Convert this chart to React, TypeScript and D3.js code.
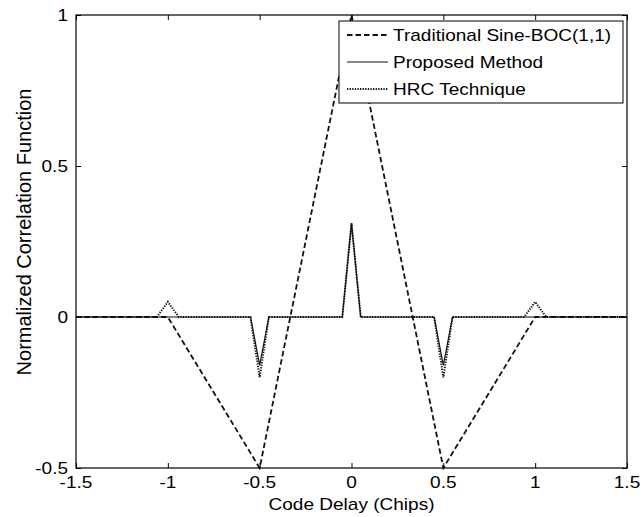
import { useEffect, useRef } from 'react';
import * as d3 from 'd3';

// tick values
const xTicks = [-1.5, -1, -0.5, 0, 0.5, 1, 1.5];
const yTicks = [-0.5, 0, 0.5, 1];

// Traditional Sine-BOC(1,1)
const bocX = [-1.5, -1, -0.5, 0, 0.5, 1, 1.5];
const bocY = [0, 0, -0.5, 1, -0.5, 0, 0];

// Proposed Method
const propX = [-1.5, -0.55, -0.5, -0.45, -0.05, 0, 0.05, 0.45, 0.5, 0.55, 1.5];
const propY = [0, 0, -0.16, 0, 0, 0.31, 0, 0, -0.16, 0, 0];

// HRC Technique
const hrcX = [-1.5, -1.06, -1, -0.94, -0.55, -0.5, -0.45, -0.05, 0, 0.05, 0.45, 0.5, 0.55, 0.94, 1, 1.06, 1.5];
const hrcY = [0, 0, 0.05, 0, 0, -0.2, 0, 0, 0.31, 0, 0, -0.2, 0, 0, 0.05, 0, 0];

const legendLabels = ['Traditional Sine-BOC(1,1)', 'Proposed Method', 'HRC Technique'];
const dashes = ['5.5,3', null, '1.3,1.3'];
const widths = [1.8, 1.2, 2];

const App = () => {
  const svgRef = useRef<SVGSVGElement>(null);

  useEffect(() => {
    if (!svgRef.current) return;
    const width = 641;
    const height = 517;
    const margin = { top: 15, right: 14, bottom: 49, left: 76 };
    const innerWidth = width - margin.left - margin.right;
    const innerHeight = height - margin.top - margin.bottom;
    const font = 'Liberation Sans, Arial, sans-serif';
    const fs = 17;
    const sx = 1.12; // text looks a bit wide in the original export

    const svg = d3.select(svgRef.current);
    svg.selectAll('*').remove();

    const g = svg.append('g').attr('transform', `translate(${margin.left},${margin.top})`);

    const x = d3.scaleLinear().domain([-1.5, 1.5]).range([0, innerWidth]);
    const y = d3.scaleLinear().domain([-0.5, 1]).range([innerHeight, 0]);

    const line = d3.line<[number, number]>()
      .x(d => x(d[0]))
      .y(d => y(d[1]));

    const series = [
      bocX.map((v, i) => [v, bocY[i]] as [number, number]),
      propX.map((v, i) => [v, propY[i]] as [number, number]),
      hrcX.map((v, i) => [v, hrcY[i]] as [number, number]),
    ];

    series.forEach((s, i) => {
      g.append('path')
        .datum(s)
        .attr('fill', 'none')
        .attr('stroke', '#111')
        .attr('stroke-width', widths[i])
        .attr('stroke-dasharray', dashes[i])
        .attr('d', line);
    });

    // box with inward ticks on all four sides
    const tick = 5;
    const clean = (sel: any) => {
      sel.select('.domain').remove();
      sel.selectAll('line').attr('stroke', '#000');
      sel.selectAll('text').remove();
    };
    g.append('g')
      .attr('transform', `translate(0,${innerHeight})`)
      .call(d3.axisBottom(x).tickValues(xTicks).tickSizeInner(-tick).tickSizeOuter(0))
      .call(clean);
    g.append('g')
      .call(d3.axisTop(x).tickValues(xTicks).tickSizeInner(-tick).tickSizeOuter(0))
      .call(clean);
    g.append('g')
      .call(d3.axisLeft(y).tickValues(yTicks).tickSizeInner(-tick).tickSizeOuter(0))
      .call(clean);
    g.append('g')
      .attr('transform', `translate(${innerWidth},0)`)
      .call(d3.axisRight(y).tickValues(yTicks).tickSizeInner(-tick).tickSizeOuter(0))
      .call(clean);

    g.append('rect')
      .attr('width', innerWidth)
      .attr('height', innerHeight)
      .attr('fill', 'none')
      .attr('stroke', '#000')
      .attr('stroke-width', 1.2);

    const txt = (parent: any) =>
      parent.append('text').attr('font-family', font).attr('font-size', fs).attr('fill', '#000');

    // tick labels
    xTicks.forEach(v => {
      txt(g)
        .attr('transform', `translate(${x(v)},${innerHeight + 20}) scale(${sx},1)`)
        .attr('text-anchor', 'middle')
        .text(String(v));
    });
    yTicks.forEach(v => {
      txt(g)
        .attr('transform', `translate(-8,${y(v) + 6}) scale(${sx},1)`)
        .attr('text-anchor', 'end')
        .text(String(v));
    });

    // axis titles
    txt(svg)
      .attr('transform', `translate(${margin.left + innerWidth / 2},510) scale(${sx},1)`)
      .attr('text-anchor', 'middle')
      .text('Code Delay (Chips)');

    txt(svg)
      .attr('transform', `translate(31,232) rotate(-90)`)
      .attr('font-size', 20)
      .attr('text-anchor', 'middle')
      .text('Normalized Correlation Function');

    // legend
    const lg = svg.append('g').attr('transform', 'translate(339,21)');
    lg.append('rect')
      .attr('width', 284)
      .attr('height', 82)
      .attr('fill', '#fff')
      .attr('stroke', '#000')
      .attr('stroke-width', 1);
    legendLabels.forEach((label, i) => {
      const yy = 14 + i * 27;
      lg.append('line')
        .attr('x1', 8)
        .attr('x2', 49)
        .attr('y1', yy)
        .attr('y2', yy)
        .attr('stroke', '#111')
        .attr('stroke-width', widths[i])
        .attr('stroke-dasharray', dashes[i]);
      txt(lg)
        .attr('transform', `translate(54,${yy + 6}) scale(${sx},1)`)
        .text(label);
    });
  }, []);

  return (
    <svg
      ref={svgRef}
      width={641}
      height={517}
      style={{ position: 'absolute', left: 0, top: 0, background: '#fff' }}
    />
  );
};

export default App;
